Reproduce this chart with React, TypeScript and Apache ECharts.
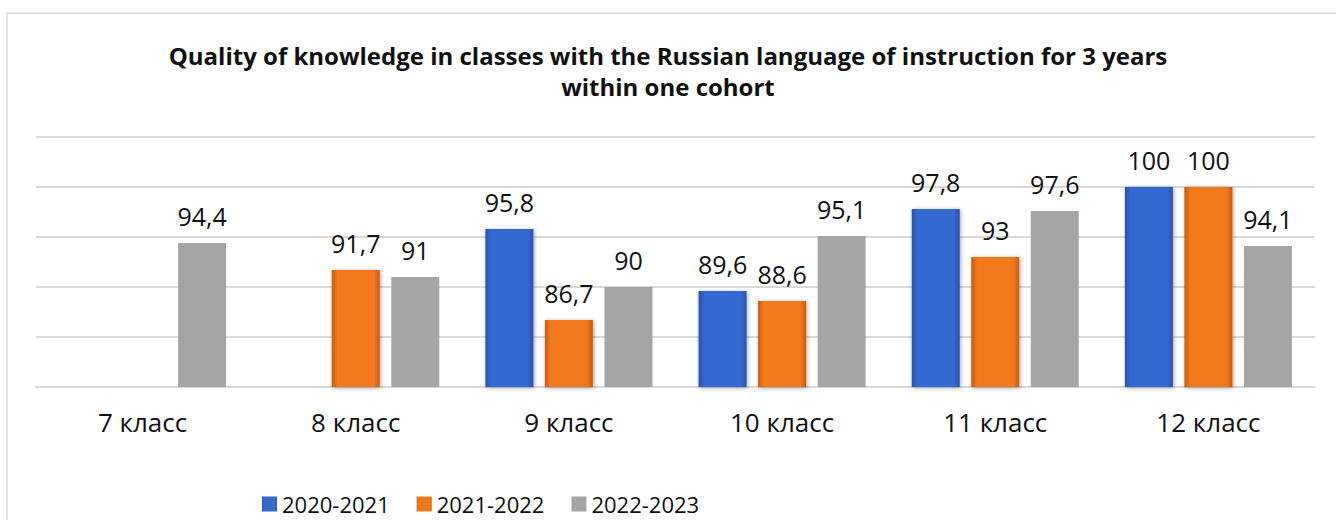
import React, { useEffect, useRef } from "react";
import * as echarts from "echarts";

const categories = ["7 класс", "8 класс", "9 класс", "10 класс", "11 класс", "12 класс"];
const seriesNames = ["2020-2021", "2021-2022", "2022-2023"];
const values2020: (number | null)[] = [null, null, 95.8, 89.6, 97.8, 100];
const values2021: (number | null)[] = [null, 91.7, 86.7, 88.6, 93, 100];
const values2022: (number | null)[] = [94.4, 91, 90, 95.1, 97.6, 94.1];

const FONT = "'Open Sans', 'Noto Sans', sans-serif";

function hGrad(edge: string, mid: string) {
  return new echarts.graphic.LinearGradient(0, 0, 1, 0, [
    { offset: 0, color: edge },
    { offset: 0.12, color: mid },
    { offset: 0.88, color: mid },
    { offset: 1, color: edge },
  ]);
}

export default function App() {
  const ref = useRef<HTMLDivElement>(null);
  useEffect(() => {
    if (!ref.current) return;
    const chart = echarts.init(ref.current, null, { renderer: "svg" });
    const fmt = (p: any) => (p.value == null ? "" : String(p.value).replace(".", ","));
    const label = {
      show: true,
      position: "top",
      distance: 15,
      fontSize: 25,
      color: "#111",
      fontFamily: FONT,
      formatter: fmt,
    };
    const styles = [
      { color: hGrad("#2a52aa", "#3569d2"), shadowBlur: 4, shadowColor: "rgba(0,0,0,0.35)", shadowOffsetX: 1, shadowOffsetY: 1 },
      { color: hGrad("#c95a0c", "#f27a1a"), shadowBlur: 4, shadowColor: "rgba(0,0,0,0.35)", shadowOffsetX: 1, shadowOffsetY: 1 },
      { color: "#a5a5a5" },
    ];
    const data = [values2020, values2021, values2022];
    chart.setOption({
      animation: false,
      backgroundColor: "#fff",
      title: {
        text: "Quality of knowledge in classes with the Russian language of instruction for 3 years\nwithin one cohort",
        left: "center",
        top: 35,
        textStyle: { fontSize: 24, fontWeight: "bold", color: "#111", fontFamily: FONT, lineHeight: 31 },
      },
      graphic: [
        {
          type: "rect",
          shape: { x: 7, y: 13, width: 1400, height: 600 },
          style: { fill: "none", stroke: "#d9d9d9", lineWidth: 1.5 },
          silent: true,
        },
      ],
      legend: {
        bottom: 0,
        left: 257,
        itemWidth: 15,
        itemHeight: 15,
        itemGap: 27,
        icon: "rect",
        textStyle: { fontSize: 22, color: "#111", fontFamily: FONT },
        data: seriesNames,
      },
      grid: { left: 36, right: 21, top: 137, bottom: 133, containLabel: false },
      xAxis: {
        type: "category",
        data: categories,
        axisLine: { lineStyle: { color: "#d9d9d9", width: 2 } },
        axisTick: { show: false },
        axisLabel: { fontSize: 26, color: "#111", fontFamily: FONT, margin: 22 },
      },
      yAxis: {
        type: "value",
        min: 80,
        max: 105,
        interval: 5,
        axisLabel: { show: false },
        axisLine: { show: false },
        axisTick: { show: false },
        splitLine: { lineStyle: { color: "#d9d9d9", width: 2 } },
      },
      series: seriesNames.map((name, i) => ({
        name,
        type: "bar",
        data: data[i],
        barWidth: 48,
        barGap: "24%",
        itemStyle: styles[i],
        label,
      })),
    });
    return () => chart.dispose();
  }, []);
  return <div ref={ref} style={{ position: "absolute", left: 0, top: 0, width: 1336, height: 520 }} />;
}
